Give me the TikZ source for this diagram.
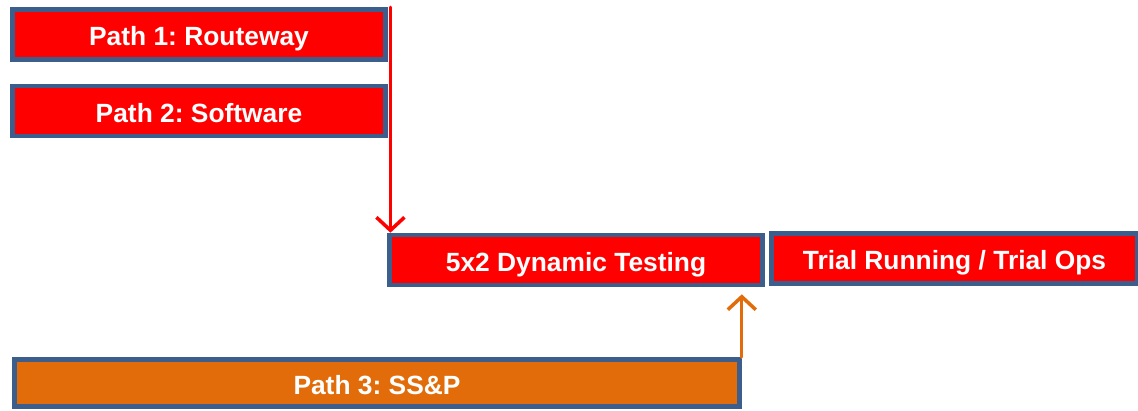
\documentclass[tikz,border=0pt]{standalone}
\usepackage{fontspec}
\setmainfont{Liberation Sans}
\usetikzlibrary{arrows.meta}
\frenchspacing

\definecolor{boxblue}{HTML}{3B5E8C}
\definecolor{boxred}{HTML}{FF0000}
\definecolor{boxorange}{HTML}{E36C0A}

\begin{document}
\begin{tikzpicture}[
    pathbox/.style={draw=boxblue, line width=2.6pt, fill=boxred, text=white,
      font=\fontsize{15}{17}\selectfont\bfseries, minimum height=1cm, inner sep=0pt,
      text height=13pt, text depth=0pt},
    redarrow/.style={draw=boxred, line width=1.8pt, line cap=round, -{Straight Barb[length=2.6mm,width=5.6mm,line width=2pt]}},
    orangearrow/.style={draw=boxorange, line width=1.8pt, line cap=round, -{Straight Barb[length=2.6mm,width=5.6mm,line width=2pt]}}
  ]
  % 画布大小
  \useasboundingbox (0,0) rectangle (22.76,-8.2);

  % 三条路径
  \node[pathbox, minimum width=7.46cm] (routeway) at (3.98,-0.69) {Path 1: Routeway};
  \node[pathbox, minimum width=7.46cm] (software) at (3.98,-2.22) {Path 2: Software};
  \node[pathbox, fill=boxorange, minimum width=14.5cm, minimum height=0.94cm] (ssp) at (7.54,-7.66) {Path 3: SS\&P};

  % 测试与试运行
  \node[pathbox, minimum width=7.46cm] (dynamic) at (11.52,-5.2) {5x2 Dynamic Testing};
  \node[pathbox, minimum width=7.32cm] (trial) at (19.09,-5.17) {Trial Running / Trial Ops};

  % 箭头
  \coordinate (redstart) at ([xshift=1.5pt]routeway.north east);
  \draw[redarrow] (redstart) -- (redstart |- dynamic.north);
  \draw[orangearrow, shorten >=4pt] (ssp.north east) -- (ssp.north east |- dynamic.south);
\end{tikzpicture}
\end{document}
